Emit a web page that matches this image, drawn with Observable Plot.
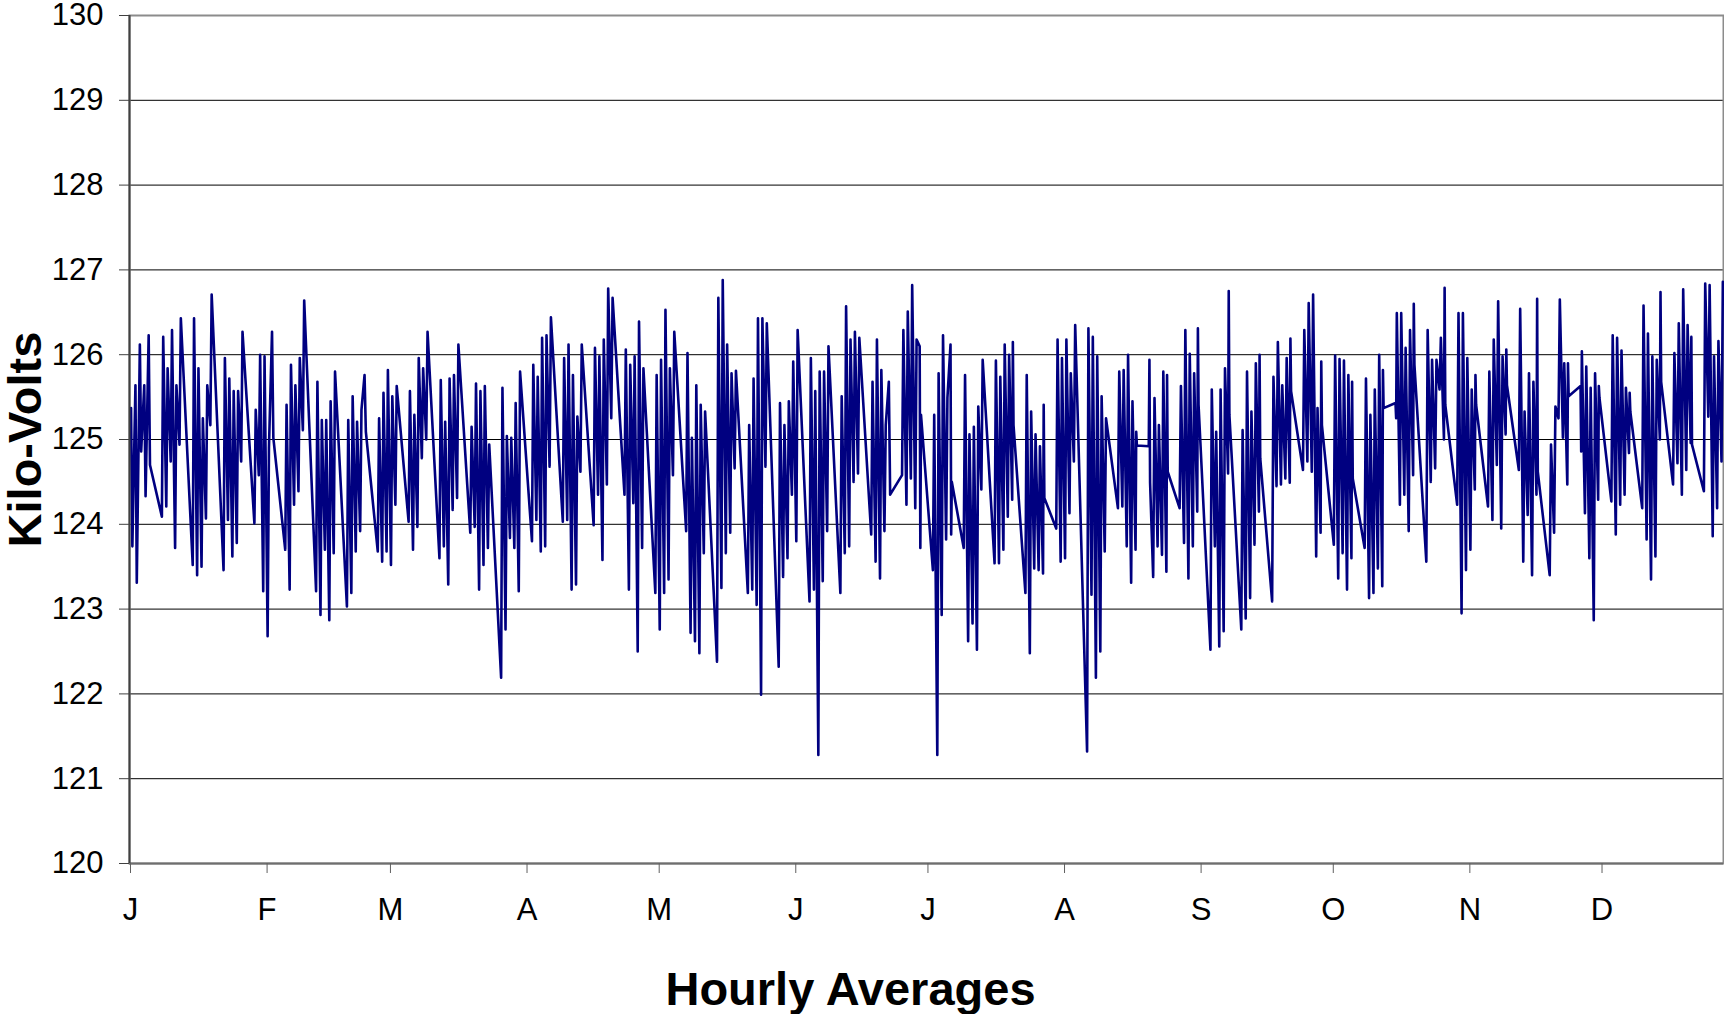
<!DOCTYPE html>
<html>
<head>
<meta charset="utf-8">
<script src="https://cdn.jsdelivr.net/npm/d3@7"></script>
<script src="https://cdn.jsdelivr.net/npm/@observablehq/plot@0.6"></script>
<style>
  html, body { margin: 0; padding: 0; background: #fff; }
  #chart { width: 1724px; height: 1014px; }
</style>
</head>
<body>
<div id="chart"></div>
<script>
// Year 2001: weekday readings (day-of-year index, 0 = Jan 1), kV values in order through the day
const days = [
  0,1,2,3,4, 7,8,9,10,11, 14,15,16,17,18, 21,22,23,24,25, 28,29,30,31,32, 35,36,37,38,39,
  42,43,44,45,46, 49,50,51,52,53, 56,57,58,59,60,
  63,64,65,66,67, 70,71,72,73,74, 77,78,79,80,81, 84,85,86,87,88, 91,92,93,94,95,
  98,99,100,101,102, 105,106,107,108,109, 112,113,114,115,116, 119,120,121,122,123,
  126,127,128,129,130, 133,134,135,136,137, 140,141,142,143,144, 147,148,149,150,151,
  154,155,156,157,158, 161,162,163,164,165, 168,169,170,171,172, 175,176,177,178,179,
  182,183,184,185,186,
  189,190,191,192,193, 196,197,198,199,200, 203,204,205,206,207, 210,211,212,213,214,
  217,218,219,220,221, 224,225,226,227,228, 231,232,233,234,235, 238,239,240,241,242,
  245,246,247,248,249,
  252,253,254,255,256, 259,260,261,262,263, 266,267,268,269,270, 273,274,275,276,277,
  280,281,282,283,284, 287,288,289,290,291, 294,295,296,297,298, 301,302,303,304,305,
  308,309,310,311,312, 315,316,317,318,319, 322,323,324,325,326, 329,330,331,332,333,
  336,337,338,339,340, 343,344,345,346,347, 350,351,352,353,354, 357,358,359,360,361
];

const kv = [
  [125.37,123.74],[125.64,123.31],[126.12,124.86],[125.64,124.33],[126.23,124.70],
  [124.09,126.21],[124.21,125.84],[124.74,126.29],[123.72,125.64],[124.94,126.43],
  [123.52,126.43],[123.40,125.84],[123.50,125.25],[124.07,125.64],[125.17,126.71],
  [123.46,125.96],[124.05,125.72],[123.62,125.57],[123.78,125.57],[124.74,126.27],
  [124.01,125.35],[124.58,126.00],[123.21,125.98],[122.68,124.90],[126.27,125.02],
  [123.70,125.41],[123.23,125.88],[124.23,125.64],[124.39,125.96],[125.11,126.64],
  [123.21,125.68],[122.93,125.23],[123.70,125.23],[122.87,125.45],[123.66,125.80],
  [123.03,125.23],[123.19,125.51],[123.68,125.21],[123.92,125.35],[125.76,125.09],
  [123.68,125.25],[123.56,125.55],[123.68,125.82],[123.52,125.51],[124.23,125.63],
  [124.03,125.57],[123.70,125.29],[123.97,125.96],[124.78,125.84],[125.00,126.27],
  [123.60,125.70],[123.74,125.21],[123.29,125.72],[124.17,125.76],[124.31,126.12],
  [123.90,125.15],[123.97,125.66],[123.23,125.57],[123.52,125.63],[123.72,124.94],
  [122.19,125.61],[122.76,125.04],[123.84,125.02],[123.72,125.43],[123.21,125.80],
  [123.80,125.88],[124.05,125.74],[123.68,126.20],[123.74,126.23],[124.68,126.44],
  [124.03,125.96],[124.05,126.12],[123.23,125.76],[123.29,125.27],[124.62,126.12],
  [123.99,126.08],[124.35,125.98],[123.58,126.18],[124.47,126.78],[125.25,126.67],
  [124.35,126.06],[123.23,125.88],[124.25,125.98],[122.50,126.39],[123.72,125.84],
  [123.19,125.76],[122.76,125.94],[123.19,126.53],[123.35,125.84],[124.58,126.27],
  [123.92,126.02],[122.72,125.02],[122.62,125.64],[122.48,125.41],[123.66,125.33],
  [122.38,126.67],[123.25,126.88],[123.66,126.12],[123.90,125.78],[124.66,125.81],
  [123.19,125.17],[123.23,125.72],[123.05,126.43],[121.99,126.43],[124.68,126.37],
  [122.32,125.43],[123.38,125.17],[123.60,125.45],[124.35,125.92],[123.80,126.29],
  [123.09,125.96],[123.23,125.57],[121.28,125.80],[123.33,125.80],[123.92,126.10],
  [123.19,125.51],[123.66,126.57],[123.74,126.18],[124.50,126.27],[124.60,126.20],
  [123.88,125.68],[123.56,126.18],[123.36,125.82],[123.92,125.17],[125.68,124.35],
  [124.58,126.29],[124.23,126.51],[124.54,126.82],[124.19,126.18],[126.10,123.72,125.29],
  [123.46,125.29],[121.28,125.78],[122.93,126.23],[123.82,125.49],[126.12,123.88,124.50],
  [123.72,125.76],[122.62,125.06],[122.83,125.15],[122.52,125.39],[124.41,125.94],
  [123.54,125.93],[123.54,125.74],[123.70,126.12],[124.09,126.00],[124.29,126.15,125.17],
  [123.19,125.76],[122.48,125.33],[123.48,125.06],[123.46,124.92],[123.42,125.41,124.31],
  [123.95,126.18],[123.56,125.96],[123.60,126.18],[124.13,125.78],[124.74,126.35],
  [121.32,126.31],[123.17,126.21],[122.19,125.98],[122.50,125.51],[123.68,125.25],
  [124.19,125.80],[124.21,125.82],[123.74,126.00],[123.31,125.45],[123.70,125.09,124.93],
  [124.92,125.94,124.49],[123.38,125.49],[123.74,125.17],[123.64,125.80],[123.44,125.76,124.62],
  [124.19,125.63],[123.78,126.29],[123.36,126.01],[123.74,125.78],[124.15,126.31,125.41],
  [122.52,125.59],[123.74,125.09],[122.56,125.59],[122.74,125.84],[124.60,126.75,125.29],
  [122.76,125.11],[122.89,125.80],[123.13,125.33],[123.76,125.90],[124.15,126.00,124.78],
  [123.09,125.74],[124.45,126.15],[124.47,125.64],[124.54,125.96],[124.49,126.19,125.57],
  [124.64,126.29],[124.74,126.61],[124.62,126.71],[123.62,125.37],[123.90,125.92,125.17],
  [123.76,125.99],[123.36,125.95],[123.66,125.93],[123.23,125.76],[123.60,125.68,124.54],
  [123.72,125.72],[123.13,125.29],[123.19,125.59],[123.48,126.00],[123.27,125.82,125.37],
  [125.43,125.25,126.49],[124.23,126.49],[124.35,126.08],[123.92,126.29],[124.58,126.60,125.88],
  [123.56,126.29],[124.50,125.94],[124.66,125.94],[125.59,126.20],[125.00,126.79,125.41],
  [124.23,126.49],[122.95,126.49],[123.46,125.96],[123.70,125.59],[124.41,125.76,125.41],
  [124.21,125.80],[124.05,126.18],[124.70,126.63],[123.95,125.98],[125.06,126.06,125.64],
  [124.64,126.54],[123.56,125.33],[124.11,125.78],[123.40,125.68],[124.35,126.66,124.62],
  [123.40,124.94],[123.90,125.39],[125.25,126.65],[125.02,125.90],[124.47,125.90,125.51],
  [125.63,124.86,126.04],[124.13,125.86],[123.60,125.61],[122.87,125.78],[124.29,125.63,125.49],
  [124.27,126.23],[123.88,126.20],[124.23,126.05],[124.35,125.61],[124.84,125.55,125.33],
  [124.19,126.58],[123.82,126.25],[123.35,125.98],[123.62,125.94],[125.00,126.74,125.68],
  [124.47,126.02],[124.72,126.37],[124.35,126.77],[124.64,126.35],[124.96,126.21,124.94],
  [124.39,126.84],[125.27,126.82],[123.86,125.98],[124.19,126.16],[124.74,126.86]
];

const yTicks = [120,121,122,123,124,125,126,127,128,129,130];
const gridValues = [121,122,123,124,125,126,127,128,129];
const monthLetters = ["J","F","M","A","M","J","J","A","S","O","N","D"];
const yTitle = "Kilo-Volts";
const xTitle = "Hourly Averages";
const yearStart = Date.UTC(2001, 0, 1);
const lastDay = 361.8; // axis ends late on Dec 28
const DAY = 864e5;

const points = days.flatMap((d, i) => {
  const vals = kv[i];
  const n = vals.length;
  return vals.map((v, j) => ({
    date: new Date(yearStart + (d + 0.35 + 0.3 * j / (n - 1)) * DAY),
    kv: v
  }));
});

const monthStarts = d3.range(12).map(m => new Date(Date.UTC(2001, m, 1)));

const chart = Plot.plot({
  width: 1724,
  height: 1014,
  marginLeft: 129,
  marginRight: 1,
  marginTop: 15,
  marginBottom: 151,
  style: {
    fontFamily: "'Liberation Sans', Arial, sans-serif",
    fontSize: "31px",
    color: "#000",
    background: "#fff"
  },
  x: { type: "utc", domain: [new Date(yearStart), new Date(yearStart + lastDay * DAY)] },
  y: { domain: [120, 130] },
  marks: [
    Plot.ruleY(gridValues, { stroke: "#000", strokeWidth: 1 }),
    Plot.frame({ stroke: "#8c8c8c", strokeWidth: 2 }),
    Plot.line(points, { x: "date", y: "kv", stroke: "#000080", strokeWidth: 2.6, strokeLinejoin: "round" }),
    Plot.ruleY([120], { stroke: "#6e6e6e", strokeWidth: 2 }),
    Plot.ruleX([new Date(yearStart)], { stroke: "#404040", strokeWidth: 2 }),
    Plot.axisY({ ticks: yTicks, tickSize: 10, tickPadding: 16, tickFormat: d => String(d), label: null, stroke: "#404040" }),
    Plot.axisX({ ticks: monthStarts, tickSize: 10, tickPadding: 24, tickFormat: d => monthLetters[d.getUTCMonth()], label: null, stroke: "#606060", dx: 1 }),
    Plot.text([yTitle], { frameAnchor: "left", text: d => d, rotate: -90, dx: -104, textAnchor: "middle", lineAnchor: "middle", fontSize: 47, fontWeight: "bold" }),
    Plot.text([xTitle], { frameAnchor: "bottom", text: d => d, dx: -76, dy: 126, textAnchor: "middle", lineAnchor: "middle", fontSize: 47, fontWeight: "bold" })
  ]
});

document.getElementById("chart").appendChild(chart);
</script>
</body>
</html>
